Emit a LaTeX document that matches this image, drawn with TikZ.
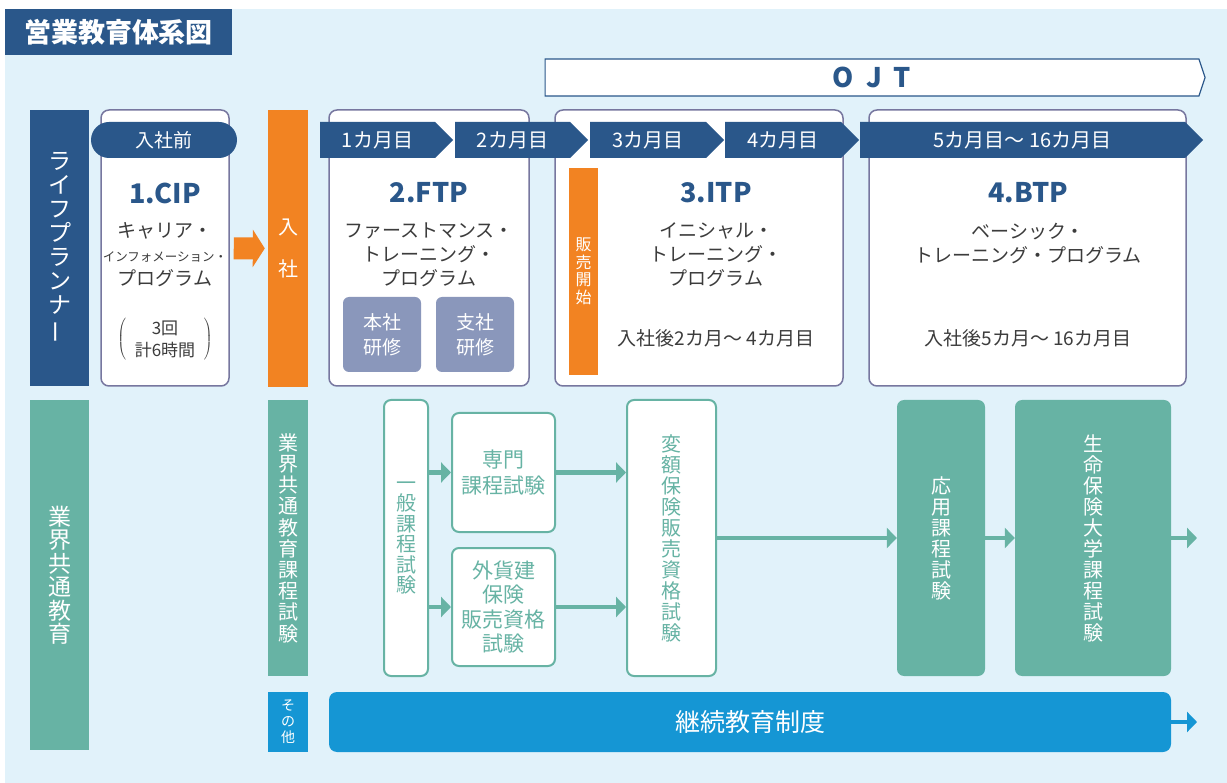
\documentclass[tikz,border=0pt]{standalone}
\usepackage{fontspec}
\usepackage{graphicx}
\setmainfont{Noto Sans CJK JP}
\usetikzlibrary{shapes.symbols,arrows.meta}

\definecolor{bgblue}{HTML}{E1F2FA}
\definecolor{navy}{HTML}{2A578A}
\definecolor{lporange}{HTML}{F28322}
\definecolor{examteal}{HTML}{67B3A4}
\definecolor{ceblue}{HTML}{1596D4}
\definecolor{trgray}{HTML}{8A97BB}
\definecolor{framegray}{HTML}{77779F}
\definecolor{txtgray}{HTML}{3C3C3C}

\tikzset{
  sidebar/.style={fill=#1, inner sep=0pt, text=white, align=center},
  phasebox/.style={draw=framegray, fill=white, line width=1.5pt, rounded corners=8pt,
    minimum height=276pt, inner sep=0pt},
  monthtag/.style={signal, signal to=east, fill=navy, text=white, minimum height=36pt,
    inner sep=0pt, font=\fontsize{20}{20}\selectfont},
  phasetitle/.style={text=navy, font=\fontsize{27}{27}\selectfont\bfseries},
  phasetext/.style={text=txtgray, align=center, font=\fontsize{19}{24}\selectfont},
  trainbox/.style={fill=trgray, rounded corners=6pt, minimum width=78pt, minimum height=75pt,
    inner sep=0pt, text=white, align=center, font=\fontsize{19}{25}\selectfont},
  examline/.style={draw=examteal, fill=white, line width=2pt, rounded corners=7pt,
    inner sep=0pt, text=examteal, align=center},
  examfill/.style={fill=examteal, rounded corners=7pt, inner sep=0pt, text=white, align=center},
  flow/.style={examteal, line width=4.5pt, -{Triangle[length=10pt,width=20pt]}},
  paren/.style={text=txtgray, inner sep=0pt},
}

\begin{document}
\begin{tikzpicture}[x=1pt,y=-1pt]
  \useasboundingbox (0,0) rectangle (1227,783);
  \fill[bgblue] (5,9) rectangle (1227,783);

  \node[sidebar=navy, minimum width=227pt, minimum height=46pt,
    font=\fontsize{27}{27}\selectfont\bfseries] (title) at (118.5,32) {営業教育体系図};

  \node[signal, signal to=east, signal pointer angle=143, draw=navy, fill=white, line width=1.2pt,
    minimum width=660pt, minimum height=37pt, inner sep=0pt, text=navy,
    font=\fontsize{27}{27}\selectfont\bfseries] (ojt) at (872,77.5) {O\hspace{12pt}J\hspace{12pt}T};

  % upper row
  \node[sidebar=navy, minimum width=59pt, minimum height=276pt,
    font=\fontsize{23}{24}\selectfont] (lp) at (59.5,248)
    {ラ\\イ\\フ\\プ\\ラ\\ン\\ナ\\\rotatebox[origin=c]{90}{ー}};
  \node[phasebox, minimum width=128pt] (cip) at (165,248) {};
  \node[sidebar=lporange, minimum width=40pt, minimum height=277pt,
    font=\fontsize{20}{42}\selectfont] (join) at (288,248.5) {入\\社};
  \node[phasebox, minimum width=200pt] (ftp) at (429,248) {};
  \node[phasebox, minimum width=288pt] (itp) at (699,248) {};
  \node[phasebox, minimum width=317pt] (btp) at (1027.5,248) {};

  \draw[lporange, line width=22pt, -{Triangle[length=12pt,width=37pt]},
    shorten <=4pt, shorten >=3pt] (cip) -- (join);

  \node[fill=navy, rounded corners=18pt, minimum width=146pt, minimum height=36pt, inner sep=0pt,
    text=white, font=\fontsize{19}{19}\selectfont] (pre) at (164,140) {入社前};
  \node[monthtag, minimum width=133pt] (m1) at (377.5,140) {1カ月目};
  \node[monthtag, minimum width=133pt] (m2) at (512.5,140) {2カ月目};
  \node[monthtag, minimum width=134pt] (m3) at (648,140) {3カ月目};
  \node[monthtag, minimum width=134pt] (m4) at (783,140) {4カ月目};
  \node[monthtag, minimum width=343pt] (m5) at (1022.5,140) {5カ月目〜 16カ月目};

  \node[phasetitle] (ciptitle) at (165,193) {1.CIP};
  \node[phasetext] (ciptext) at (165,255)
    {キャリア・\\{\fontsize{12.5}{12.5}\selectfont インフォメーション・}\\プログラム};
  \node[text=txtgray, align=center, inner sep=0pt, font=\fontsize{17}{22}\selectfont]
    (cipcount) at (165,339) {3回\\計6時間};
  \node[paren, anchor=east] (lparen) at ([xshift=-7pt]cipcount.west)
    {$\left(\vcenter{\hbox{\rule{0pt}{46pt}}}\right.$};
  \node[paren, anchor=west] (rparen) at ([xshift=7pt]cipcount.east)
    {$\left.\vcenter{\hbox{\rule{0pt}{46pt}}}\right)$};

  \node[phasetitle] (ftptitle) at (429,193) {2.FTP};
  \node[phasetext] (ftptext) at (429,255) {ファーストマンス・\\トレーニング・\\プログラム};
  \node[trainbox] (honsha) at (382,334.5) {本社\\研修};
  \node[trainbox] (shisha) at (475,334.5) {支社\\研修};

  \node[sidebar=lporange, minimum width=29pt, minimum height=207pt,
    font=\fontsize{16}{17.5}\selectfont] (sales) at (583.5,271.5) {販\\売\\開\\始};
  \node[phasetitle] (itptitle) at (716,193) {3.ITP};
  \node[phasetext] (itptext) at (716,255) {イニシャル・\\トレーニング・\\プログラム};
  \node[phasetext] (itpterm) at (716,338) {入社後2カ月〜 4カ月目};

  \node[phasetitle] (btptitle) at (1028,193) {4.BTP};
  \node[phasetext] (btptext) at (1028,243) {ベーシック・\\トレーニング・プログラム};
  \node[phasetext] (btpterm) at (1028,338) {入社後5カ月〜 16カ月目};

  % lower row
  \node[sidebar=examteal, minimum width=59pt, minimum height=350pt,
    font=\fontsize{23}{23.5}\selectfont] (common) at (59.5,575) {業\\界\\共\\通\\教\\育};
  \node[sidebar=examteal, minimum width=40pt, minimum height=276pt,
    font=\fontsize{20}{21.2}\selectfont] (commonexam) at (288,538) {業\\界\\共\\通\\教\\育\\課\\程\\試\\験};
  \node[sidebar=ceblue, minimum width=40pt, minimum height=60pt,
    font=\fontsize{14}{16}\selectfont] (other) at (288,722) {そ\\の\\他};

  \node[examline, minimum width=44pt, minimum height=276pt,
    font=\fontsize{20}{20.5}\selectfont] (general) at (406,538) {一\\般\\課\\程\\試\\験};
  \node[examline, minimum width=103pt, minimum height=119pt,
    font=\fontsize{21}{26}\selectfont] (special) at (503.5,472.5) {専門\\課程試験};
  \node[examline, minimum width=103pt, minimum height=118pt,
    font=\fontsize{21}{24.5}\selectfont] (foreign) at (503.5,607) {外貨建\\保険\\販売資格\\試験};
  \node[examline, minimum width=89pt, minimum height=276pt,
    font=\fontsize{20}{21}\selectfont] (variable) at (671.5,538) {変\\額\\保\\険\\販\\売\\資\\格\\試\\験};
  \node[examfill, minimum width=88pt, minimum height=276pt,
    font=\fontsize{20}{21}\selectfont] (applied) at (941,538) {応\\用\\課\\程\\試\\験};
  \node[examfill, minimum width=156pt, minimum height=276pt,
    font=\fontsize{20}{21}\selectfont] (college) at (1093,538) {生\\命\\保\\険\\大\\学\\課\\程\\試\\験};
  \node[fill=ceblue, rounded corners=8pt, minimum width=842pt, minimum height=60pt, inner sep=0pt,
    text=white, font=\fontsize{25}{25}\selectfont] (cpd) at (750,722) {継続教育制度};

  \coordinate (collegeend) at (1197,538);
  \coordinate (cpdend) at (1197,722);

  \draw[flow] (general.east |- special.west) -- (special.west);
  \draw[flow] (general.east |- foreign.west) -- (foreign.west);
  \draw[flow] (special.east) -- (variable.west |- special.east);
  \draw[flow] (foreign.east) -- (variable.west |- foreign.east);
  \draw[flow] (variable) -- (applied);
  \draw[flow] (applied) -- (college);
  \draw[flow] (college.east) -- (collegeend);
  \draw[flow, ceblue] (cpd.east) -- (cpdend);
\end{tikzpicture}
\end{document}
